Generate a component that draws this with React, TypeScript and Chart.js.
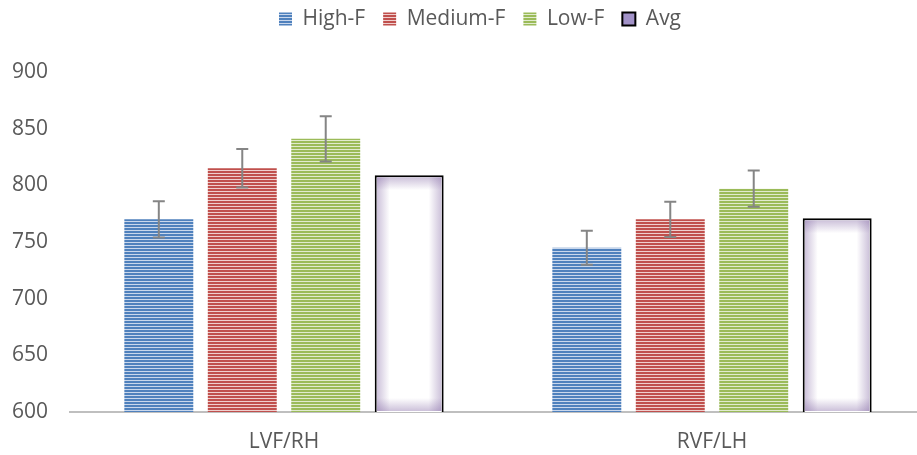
import React, { useEffect, useRef } from 'react';
import { Chart, registerables } from 'chart.js';

Chart.register(...registerables);

const categories = ['LVF/RH', 'RVF/LH'];
const seriesNames = ['High-F', 'Medium-F', 'Low-F', 'Avg'];
const highF = [770, 745];
const mediumF = [815, 770];
const lowF = [841, 797];
const avgValues = [809, 771];
const highErr = [16, 15];
const mediumErr = [17, 15.5];
const lowErr = [20, 16];
const yMin = 600;
const yMax = 900;
const yStep = 50;

const FONT = '"Open Sans", sans-serif';
const TEXT = '#595959';

function stripes(ctx: CanvasRenderingContext2D, dark: string, light: string) {
  const c = document.createElement('canvas');
  c.width = 8;
  c.height = 3;
  const g = c.getContext('2d')!;
  g.fillStyle = light;
  g.fillRect(0, 0, 8, 3);
  g.fillStyle = dark;
  g.fillRect(0, 0, 8, 2);
  return ctx.createPattern(c, 'repeat')!;
}

const legendTweak = {
  id: 'legendTweak',
  beforeInit(chart: any) {
    const orig = chart.legend.fit;
    chart.legend.fit = function () {
      orig.bind(chart.legend)();
      this.height += 23;
    };
  },
  afterLayout(chart: any) {
    chart.legend.left += 17;
    chart.legend.right += 17;
    chart.legend.top -= 9.5;
  },
};

const avgGlow = {
  id: 'avgGlow',
  afterDatasetsDraw(chart: any) {
    const ctx = chart.ctx;
    const meta = chart.getDatasetMeta(3);
    const area = chart.chartArea;
    meta.data.forEach((bar: any) => {
      const { x, y, base, width } = bar.getProps(['x', 'y', 'base', 'width'], true);
      const bw = 2;
      const l = x - width / 2 + bw;
      const r = x + width / 2 - bw;
      const t = Math.min(y, base) + bw;
      const b = Math.min(Math.max(y, base), area.bottom) - 1;
      const s = 13;
      const c0 = 'rgba(128,100,162,0.4)';
      const c1 = 'rgba(128,100,162,0)';
      ctx.save();
      ctx.beginPath();
      ctx.rect(l, t, r - l, b - t);
      ctx.clip();
      let g = ctx.createLinearGradient(l, 0, l + s, 0);
      g.addColorStop(0, c0); g.addColorStop(1, c1);
      ctx.fillStyle = g; ctx.fillRect(l, t, s, b - t);
      g = ctx.createLinearGradient(r, 0, r - s, 0);
      g.addColorStop(0, c0); g.addColorStop(1, c1);
      ctx.fillStyle = g; ctx.fillRect(r - s, t, s, b - t);
      g = ctx.createLinearGradient(0, t, 0, t + s);
      g.addColorStop(0, c0); g.addColorStop(1, c1);
      ctx.fillStyle = g; ctx.fillRect(l, t, r - l, s);
      g = ctx.createLinearGradient(0, b, 0, b - s);
      g.addColorStop(0, c0); g.addColorStop(1, c1);
      ctx.fillStyle = g; ctx.fillRect(l, b - s, r - l, s);
      ctx.restore();
    });
  },
};

const errorBars = {
  id: 'errorBars',
  afterDatasetsDraw(chart: any) {
    const ctx = chart.ctx;
    const yScale = chart.scales.y;
    chart.data.datasets.forEach((ds: any, di: number) => {
      if (!ds.errors) return;
      const meta = chart.getDatasetMeta(di);
      meta.data.forEach((bar: any, i: number) => {
        const v = ds.data[i];
        const e = ds.errors[i];
        const yt = yScale.getPixelForValue(v + e);
        const yb = yScale.getPixelForValue(v - e);
        const x = bar.x;
        ctx.save();
        ctx.strokeStyle = '#858585';
        ctx.lineWidth = 2;
        ctx.beginPath();
        ctx.moveTo(x, yt); ctx.lineTo(x, yb);
        ctx.moveTo(x - 6, yt); ctx.lineTo(x + 6, yt);
        ctx.moveTo(x - 6, yb); ctx.lineTo(x + 6, yb);
        ctx.stroke();
        ctx.restore();
      });
    });
  },
};

export default function App() {
  const ref = useRef<HTMLCanvasElement>(null);
  useEffect(() => {
    const canvas = ref.current!;
    const ctx = canvas.getContext('2d')!;
    const blue = stripes(ctx, '#4f81bd', '#c9d7ec');
    const red = stripes(ctx, '#c0504d', '#efcfce');
    const green = stripes(ctx, '#9bbb59', '#e1ebcf');
    const common = {
      categoryPercentage: 0.78,
      barPercentage: 0.826,
      borderSkipped: false,
    };
    const chart = new Chart(ctx, {
      type: 'bar',
      data: {
        labels: categories,
        datasets: [
          { label: seriesNames[0], data: highF, errors: highErr, backgroundColor: blue, borderWidth: 0, ...common } as any,
          { label: seriesNames[1], data: mediumF, errors: mediumErr, backgroundColor: red, borderWidth: 0, ...common } as any,
          { label: seriesNames[2], data: lowF, errors: lowErr, backgroundColor: green, borderWidth: 0, ...common } as any,
          { label: seriesNames[3], data: avgValues, backgroundColor: '#ffffff', borderColor: '#000000', borderWidth: 2, ...common } as any,
        ],
      },
      options: {
        animation: false,
        responsive: true,
        maintainAspectRatio: false,
        layout: { padding: 0 },
        plugins: {
          tooltip: { enabled: false },
          legend: {
            position: 'top',
            labels: {
              boxWidth: 13,
              boxHeight: 13,
              padding: 18,
              color: TEXT,
              font: { family: FONT, size: 21 },
              generateLabels(chart: any) {
                const items = Chart.defaults.plugins.legend.labels.generateLabels(chart);
                items.forEach((it: any, i: number) => {
                  if (i === 3) {
                    it.fillStyle = '#a292c8';
                    it.strokeStyle = '#000000';
                    it.lineWidth = 2;
                  } else {
                    it.lineWidth = 0;
                  }
                });
                return items;
              },
            },
          },
        },
        scales: {
          x: {
            grid: { display: false, drawTicks: false },
            border: { display: true, color: '#bfbfbf', width: 2 },
            ticks: { color: TEXT, font: { family: FONT, size: 21 }, padding: 17 },
            afterFit(scale: any) { scale.height = 43; },
          },
          y: {
            min: yMin,
            max: yMax,
            grid: { display: false, drawTicks: false },
            border: { display: false },
            ticks: { stepSize: yStep, color: TEXT, font: { family: FONT, size: 21 }, padding: 22 },
            afterFit(scale: any) { scale.width = 70; },
          },
        },
      } as any,
      plugins: [legendTweak, avgGlow, errorBars],
    });
    return () => chart.destroy();
  }, []);
  return (
    <div style={{ position: 'fixed', left: 0, top: 0, width: 917, height: 455, overflow: 'hidden', background: '#fff' }}>
      <div style={{ position: 'relative', width: 926, height: 455 }}>
        <canvas ref={ref} />
      </div>
    </div>
  );
}
